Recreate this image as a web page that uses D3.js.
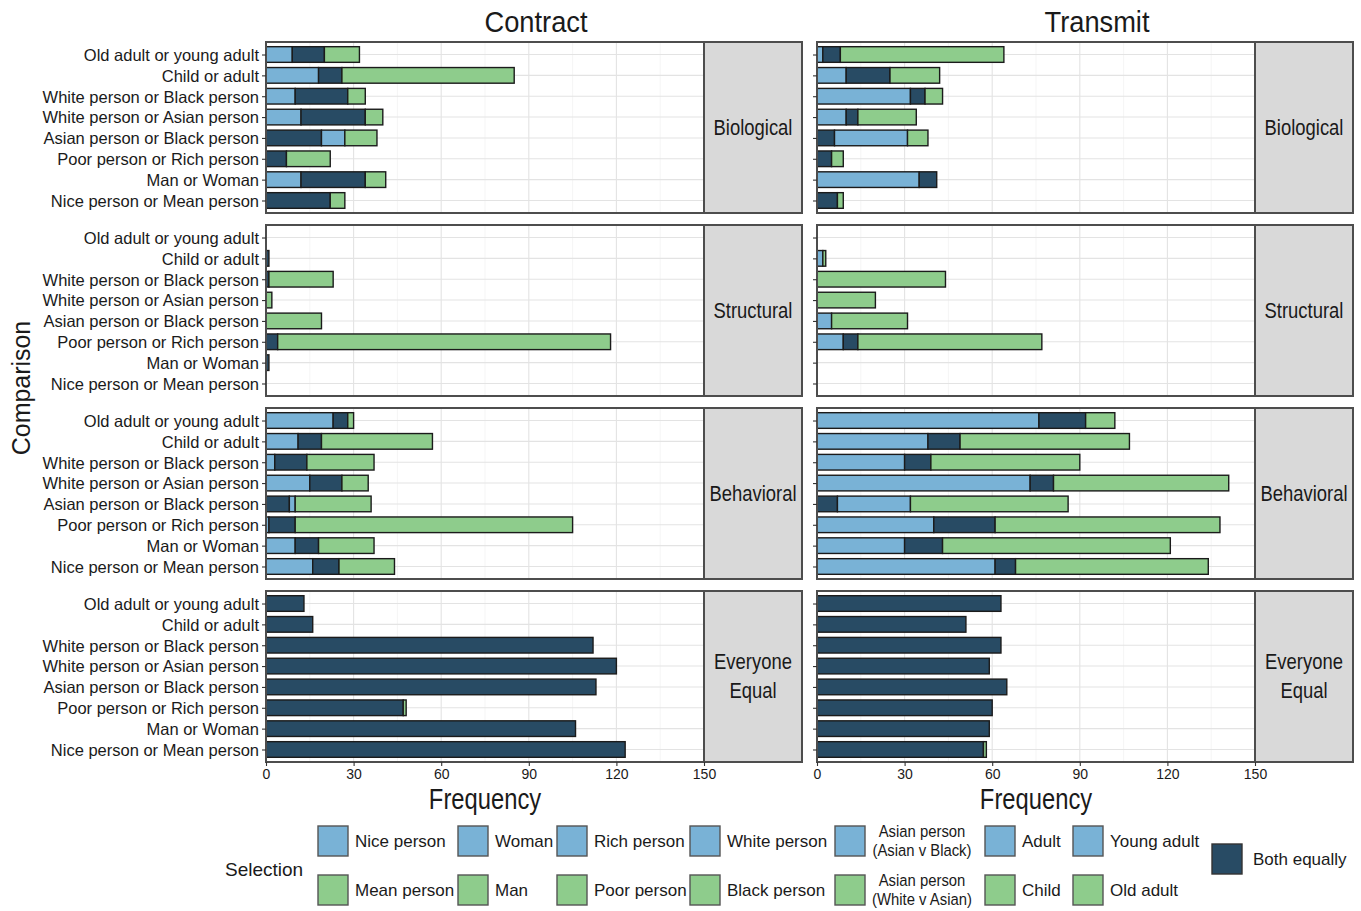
<!DOCTYPE html>
<html>
<head>
<meta charset="utf-8">
<script src="https://cdn.jsdelivr.net/npm/d3@7"></script>
<style>
  html, body { margin: 0; padding: 0; background: #ffffff; }
  svg text { font-family: "Liberation Sans", Arial, sans-serif; fill: #1a1a1a; }
</style>
</head>
<body>
<svg id="chart" width="1361" height="911"></svg>
<script>
// ---- data ----
const tasks = ["Contract", "Transmit"];
const mechanisms = ["Biological", "Structural", "Behavioral", "Everyone Equal"];
const comparisons = [
  "Old adult or young adult",
  "Child or adult",
  "White person or Black person",
  "White person or Asian person",
  "Asian person or Black person",
  "Poor person or Rich person",
  "Man or Woman",
  "Nice person or Mean person"
];
// stacking order of the three segments, per comparison (left to right)
const stackOrder = [
  ["first", "both", "second"],
  ["first", "both", "second"],
  ["first", "both", "second"],
  ["first", "both", "second"],
  ["both", "first", "second"],
  ["first", "both", "second"],
  ["first", "both", "second"],
  ["first", "both", "second"]
];

// counts: one row per mechanism, one value per comparison
const contractFirst = [
  [9, 18, 10, 12, 8, 0, 12, 0],
  [0, 0, 0, 0, 0, 0, 0, 0],
  [23, 11, 3, 15, 2, 1, 10, 16],
  [0, 0, 0, 0, 0, 0, 0, 0]
];
const contractBoth = [
  [11, 8, 18, 22, 19, 7, 22, 22],
  [0, 1, 1, 0, 0, 4, 1, 0],
  [5, 8, 11, 11, 8, 9, 8, 9],
  [13, 16, 112, 120, 113, 47, 106, 123]
];
const contractSecond = [
  [12, 59, 6, 6, 11, 15, 7, 5],
  [0, 0, 22, 2, 19, 114, 0, 0],
  [2, 38, 23, 9, 26, 95, 19, 19],
  [0, 0, 0, 0, 0, 1, 0, 0]
];
const transmitFirst = [
  [2, 10, 32, 10, 25, 0, 35, 0],
  [0, 2, 0, 0, 5, 9, 0, 0],
  [76, 38, 30, 73, 25, 40, 30, 61],
  [0, 0, 0, 0, 0, 0, 0, 0]
];
const transmitBoth = [
  [6, 15, 5, 4, 6, 5, 6, 7],
  [0, 0, 0, 0, 0, 5, 0, 0],
  [16, 11, 9, 8, 7, 21, 13, 7],
  [63, 51, 63, 59, 65, 60, 59, 57]
];
const transmitSecond = [
  [56, 17, 6, 20, 7, 4, 0, 2],
  [0, 1, 44, 20, 26, 63, 0, 0],
  [10, 58, 51, 60, 54, 77, 78, 66],
  [0, 0, 0, 0, 0, 0, 0, 1]
];

const xTicks = [0, 30, 60, 90, 120, 150];
const xMinorTicks = [15, 45, 75, 105, 135];
const firstLabels = ["Nice person", "Woman", "Rich person", "White person", "Asian person\n(Asian v Black)", "Adult", "Young adult"];
const secondLabels = ["Mean person", "Man", "Poor person", "Black person", "Asian person\n(White v Asian)", "Child", "Old adult"];
const bothLabel = "Both equally";

const colors = { first: "#79b2d6", both: "#284b64", second: "#8ecc8c" };

// narrow a text horizontally around its anchor point
function squeeze(sel, factor) {
  sel.each(function () {
    const t = d3.select(this);
    const tx = +t.attr("x") || 0, ty = +t.attr("y") || 0;
    const prev = t.attr("transform") || "";
    t.attr("x", 0).attr("y", 0)
      .attr("transform", `${prev} translate(${tx},${ty}) scale(${factor},1)`);
  });
  return sel;
}

// ---- layout ----
const svg = d3.select("#chart");
const plotLeft = 266, panelW = 438, stripW = 98, colGap = 15;
const plotTop = 42, panelH = 171, rowGap = 12;

const x = d3.scaleLinear().domain([0, 150]).range([0, panelW]);
const y = d3.scalePoint().domain(comparisons).range([0, panelH]).padding(0.6);
const barH = y.step() * 0.75;

const values = {
  Contract: { first: contractFirst, both: contractBoth, second: contractSecond },
  Transmit: { first: transmitFirst, both: transmitBoth, second: transmitSecond }
};

// column titles
const titleX = [536, 1097];
tasks.forEach((t, ti) => {
  svg.append("text")
    .attr("x", titleX[ti]).attr("y", 32)
    .attr("text-anchor", "middle")
    .style("font-size", "29px")
    .text(t)
    .call(squeeze, 0.94);
});

tasks.forEach((task, ti) => {
  const px = plotLeft + ti * (panelW + stripW + colGap);
  mechanisms.forEach((mech, mi) => {
    const py = plotTop + mi * (panelH + rowGap);
    const g = svg.append("g").attr("transform", `translate(${px},${py})`);

    // background grid
    g.append("rect").attr("width", panelW).attr("height", panelH).attr("fill", "#ffffff");
    g.selectAll("line.minor").data(xMinorTicks).enter().append("line")
      .attr("x1", d => x(d)).attr("x2", d => x(d))
      .attr("y1", 0).attr("y2", panelH)
      .attr("stroke", "#f0f0f0").attr("stroke-width", 0.7);
    g.selectAll("line.major").data(xTicks).enter().append("line")
      .attr("x1", d => x(d)).attr("x2", d => x(d))
      .attr("y1", 0).attr("y2", panelH)
      .attr("stroke", "#e3e3e3").attr("stroke-width", 1.1);
    g.selectAll("line.hgrid").data(comparisons).enter().append("line")
      .attr("x1", 0).attr("x2", panelW)
      .attr("y1", d => y(d)).attr("y2", d => y(d))
      .attr("stroke", "#e3e3e3").attr("stroke-width", 1.1);

    // stacked bars
    comparisons.forEach((c, ci) => {
      let acc = 0;
      stackOrder[ci].forEach(key => {
        const v = values[task][key][mi][ci];
        if (v <= 0) return;
        g.append("rect")
          .attr("x", x(acc))
          .attr("y", y(c) - barH / 2)
          .attr("width", x(acc + v) - x(acc))
          .attr("height", barH)
          .attr("fill", colors[key])
          .attr("stroke", "#1b1b1b")
          .attr("stroke-width", 1.4);
        acc += v;
      });
    });

    // panel border
    g.append("rect").attr("width", panelW).attr("height", panelH)
      .attr("fill", "none").attr("stroke", "#4d4d4d").attr("stroke-width", 2);

    // right strip
    const s = g.append("g").attr("transform", `translate(${panelW},0)`);
    s.append("rect").attr("width", stripW).attr("height", panelH)
      .attr("fill", "#d9d9d9").attr("stroke", "#4d4d4d").attr("stroke-width", 2);
    const lines = mech === "Everyone Equal" ? ["Everyone", "Equal"] : [mech];
    lines.forEach((ln, li) => {
      s.append("text")
        .attr("x", stripW / 2)
        .attr("y", panelH / 2 + 7 + (li - (lines.length - 1) / 2) * 29)
        .attr("text-anchor", "middle")
        .style("font-size", "22.5px")
        .text(ln)
        .call(squeeze, 0.82);
    });

    // y axis
    const yAxis = d3.axisLeft(y).tickSize(4).tickPadding(3);
    const ya = g.append("g").call(yAxis);
    ya.select(".domain").remove();
    ya.selectAll(".tick line").attr("stroke", "#333").attr("stroke-width", 1.1);
    if (ti === 0) {
      ya.selectAll(".tick text").style("font-size", "16.5px").attr("fill", "#1a1a1a").attr("dy", "0.35em");
    } else {
      ya.selectAll(".tick text").remove();
    }

    // x axis on bottom row
    if (mi === mechanisms.length - 1) {
      const xa = g.append("g").attr("transform", `translate(0,${panelH})`)
        .call(d3.axisBottom(x).tickValues(xTicks).tickSize(4).tickPadding(3));
      xa.select(".domain").remove();
      xa.selectAll(".tick line").attr("stroke", "#333").attr("stroke-width", 1.1);
      xa.selectAll(".tick text").style("font-size", "14px").attr("fill", "#333");
      svg.append("text")
        .attr("x", px + panelW / 2).attr("y", py + panelH + 47)
        .attr("text-anchor", "middle")
        .style("font-size", "29px")
        .text("Frequency")
        .call(squeeze, 0.82);
    }
  });
});

// y axis title
svg.append("text")
  .attr("transform", `translate(30,388) rotate(-90)`)
  .attr("text-anchor", "middle")
  .style("font-size", "26px")
  .text("Comparison")
  .call(squeeze, 0.96);

// ---- legend ----
const leg = svg.append("g");
leg.append("text").attr("x", 225).attr("y", 876).style("font-size", "19px").text("Selection");

const keySize = 30;
const colKeyX = [318, 458, 557, 690, 835, 985, 1073];
const rowKeyY = [826, 875];

function drawLabel(xk, yk, label) {
  const parts = label.split("\n");
  if (parts.length === 1) {
    leg.append("text").attr("x", xk + keySize + 7).attr("y", yk + keySize / 2 + 6)
      .style("font-size", "17px").text(label);
  } else {
    parts.forEach((p, i) => {
      leg.append("text").attr("x", xk + keySize + 57).attr("y", yk + 11 + i * 19)
        .attr("text-anchor", "middle")
        .style("font-size", "16.5px").text(p)
        .call(squeeze, 0.9);
    });
  }
}

[firstLabels, secondLabels].forEach((labels, ri) => {
  const key = ri === 0 ? "first" : "second";
  labels.forEach((lab, i) => {
    leg.append("rect")
      .attr("x", colKeyX[i]).attr("y", rowKeyY[ri])
      .attr("width", keySize).attr("height", keySize)
      .attr("fill", colors[key]).attr("stroke", "#555").attr("stroke-width", 1.4);
    drawLabel(colKeyX[i], rowKeyY[ri], lab);
  });
});

leg.append("rect")
  .attr("x", 1212).attr("y", 844).attr("width", keySize).attr("height", keySize)
  .attr("fill", colors.both).attr("stroke", "#333").attr("stroke-width", 1.4);
leg.append("text").attr("x", 1253).attr("y", 865).style("font-size", "17px").text(bothLabel);
</script>
</body>
</html>
